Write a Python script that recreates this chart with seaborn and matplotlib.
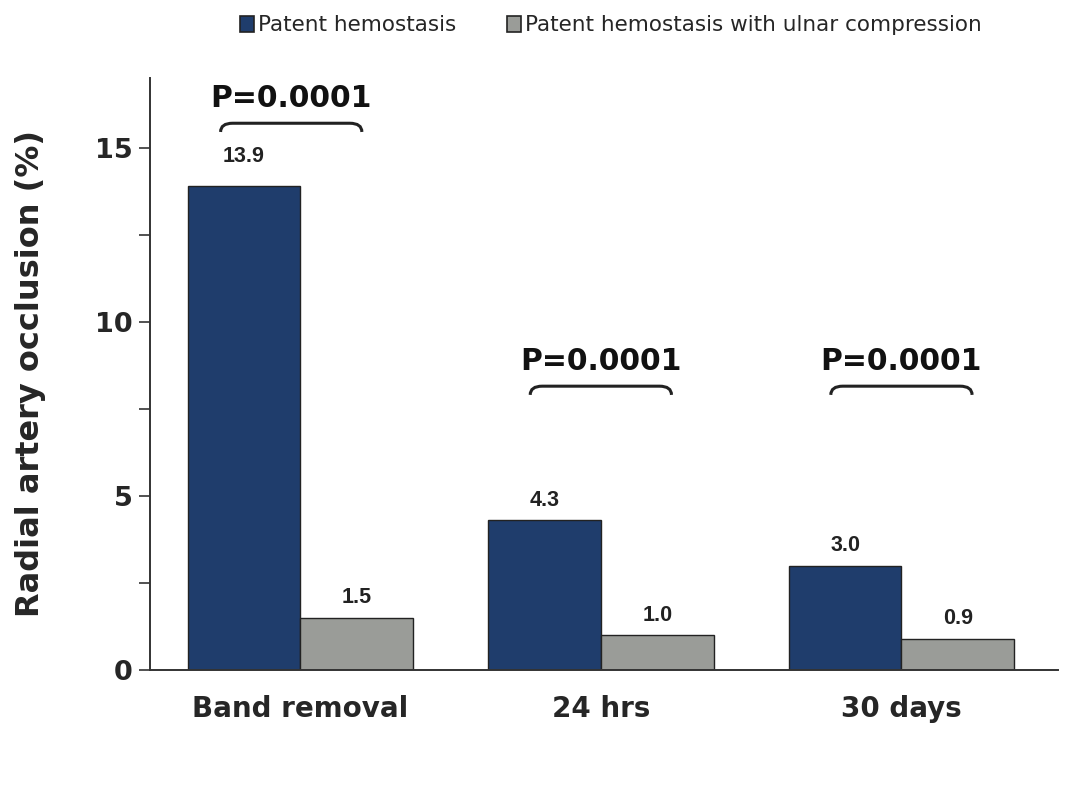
import matplotlib
matplotlib.use("Agg")
import matplotlib.pyplot as plt
from matplotlib.path import Path
from matplotlib.patches import PathPatch, Patch
import seaborn as sns
import pandas as pd

categories = ["Band removal", "24 hrs", "30 days"]
series = ["Patent hemostasis", "Patent hemostasis with ulnar compression"]
values_patent = [13.9, 4.3, 3.0]
values_ulnar = [1.5, 1.0, 0.9]
value_labels_patent = ["13.9", "4.3", "3.0"]
value_labels_ulnar = ["1.5", "1.0", "0.9"]
p_labels = ["P=0.0001", "P=0.0001", "P=0.0001"]
bracket_heights = [15.7, 8.15, 8.15]
colors = ["#1f3d6c", "#9a9c98"]

df = pd.DataFrame({
    "cat": categories * 2,
    "series": [series[0]] * 3 + [series[1]] * 3,
    "val": values_patent + values_ulnar,
})

sns.set_style("white")
plt.rcParams["font.family"] = ["DejaVu Sans"]

fig = plt.figure(figsize=(10.68, 7.9), dpi=100)
ax = fig.add_axes([0.1404, 0.1519, 0.850, 0.7494])

sns.barplot(data=df, x="cat", y="val", hue="series", palette=colors,
            width=0.75, edgecolor="#222222", linewidth=1.0, ax=ax,
            saturation=1, legend=False)

ax.set_ylim(0, 17)
ax.set_xlim(-0.5, 2.52)
ax.set_yticks([0, 5, 10, 15])
ax.set_yticks([2.5, 7.5, 12.5], minor=True)
ax.tick_params(axis="y", which="both", direction="out", length=8, width=1.2,
               color="#333333", left=True, pad=4.5)
ax.tick_params(axis="x", length=0, pad=18)
for lab in ax.get_yticklabels():
    lab.set_fontsize(19.5)
    lab.set_fontweight("bold")
for lab in ax.get_xticklabels():
    lab.set_fontsize(20)
    lab.set_fontweight("bold")
for s in ["top", "right"]:
    ax.spines[s].set_visible(False)
for s in ["left", "bottom"]:
    ax.spines[s].set_color("#333333")
    ax.spines[s].set_linewidth(1.4)
ax.set_xlabel("")
ax.set_ylabel("Radial artery occlusion (%)", fontsize=23, fontweight="bold")
ax.yaxis.set_label_coords(-0.114, 0.5)

# value labels
for i, c in enumerate(categories):
    for j, (vals, labs) in enumerate([(values_patent, value_labels_patent),
                                      (values_ulnar, value_labels_ulnar)]):
        xpos = i + (-0.1875 if j == 0 else 0.1875)
        off = 21 if (i == 0 and j == 0) else 14.5
        ax.annotate(labs[i], (xpos, vals[i]), xytext=(0, off),
                    textcoords="offset points", ha="center", va="center",
                    fontsize=15.5, fontweight="bold", family="Liberation Sans",
                    color="#222222")

# brackets and p-values
for i, (p, h) in enumerate(zip(p_labels, bracket_heights)):
    cx = i - (0.03 if i == 0 else 0)
    hw = 0.235
    r = 0.04
    dy = 0.25
    verts = [(cx - hw, h - dy), (cx - hw, h), (cx - hw + r, h),
             (cx + hw - r, h),
             (cx + hw, h), (cx + hw, h - dy)]
    codes = [Path.MOVETO, Path.CURVE3, Path.CURVE3, Path.LINETO,
             Path.CURVE3, Path.CURVE3]
    ax.add_patch(PathPatch(Path(verts, codes), fill=False, lw=2.2,
                           edgecolor="#222222", clip_on=False))
    ax.text(cx, h + 0.72, p, ha="center", va="center", fontsize=21.5,
            fontweight="bold", color="#111111")

# legend
handles = [Patch(facecolor=colors[k], edgecolor="#222222", lw=1.2,
                 label=series[k]) for k in range(2)]
fig.legend(handles=handles, loc="center", bbox_to_anchor=(0.572, 0.968),
           ncol=2, frameon=False, fontsize=15.5, handlelength=0.65,
           handleheight=0.8, handletextpad=0.15, columnspacing=2.4)

fig.savefig("out.png", dpi=100)
